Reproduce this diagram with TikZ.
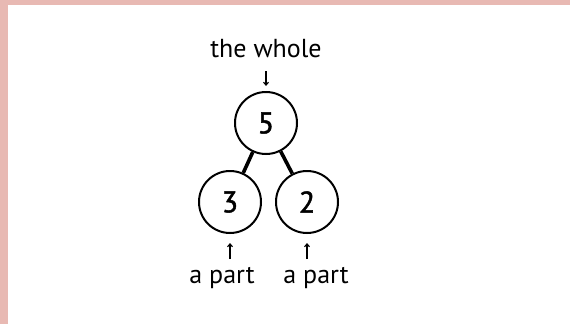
\documentclass[tikz,border=0pt]{standalone}
\usepackage{fontspec}
\setmainfont{PT Sans}
\newfontfamily\digitfont[FakeBold=1.6]{PT Sans}
\usetikzlibrary{arrows.meta}
\definecolor{frame}{HTML}{E8B9B3}
\begin{document}
\begin{tikzpicture}[x=1pt,y=-1pt,
  num/.style={circle,draw=black,line width=2pt,minimum size=62pt,inner sep=0pt,font=\digitfont\fontsize{30}{30}\selectfont},
  lbl/.style={inner sep=0pt,font=\fontsize{26}{26}\selectfont},
  link/.style={line width=3.6pt},
  pointer/.style={line width=1.1pt,-{Straight Barb[length=3pt,width=5pt]}}]
\useasboundingbox (0,0) rectangle (570,324);
\fill[frame] (0,0) rectangle (570,324);
\fill[white] (8,5) rectangle (570,324);
\node[num] (c5) at (266,123) {5};
\node[num] (c3) at (230,202) {3};
\node[num] (c2) at (307,202) {2};
\draw[link] (c5) -- (c3);
\draw[link] (c5) -- (c2);
\node[lbl] (whole) at (266,49) {the whole};
\node[lbl] (p1) at (222,278) {a part};
\node[lbl] (p2) at (316,278) {a part};
\coordinate (w0) at (266,71);
\coordinate (w1) at (266,86);
\draw[pointer] (w0) -- (w1);
\coordinate (a0) at (230,259);
\coordinate (a1) at (230,243);
\draw[pointer] (a0) -- (a1);
\coordinate (b0) at (307,259);
\coordinate (b1) at (307,243);
\draw[pointer] (b0) -- (b1);
\end{tikzpicture}
\end{document}
